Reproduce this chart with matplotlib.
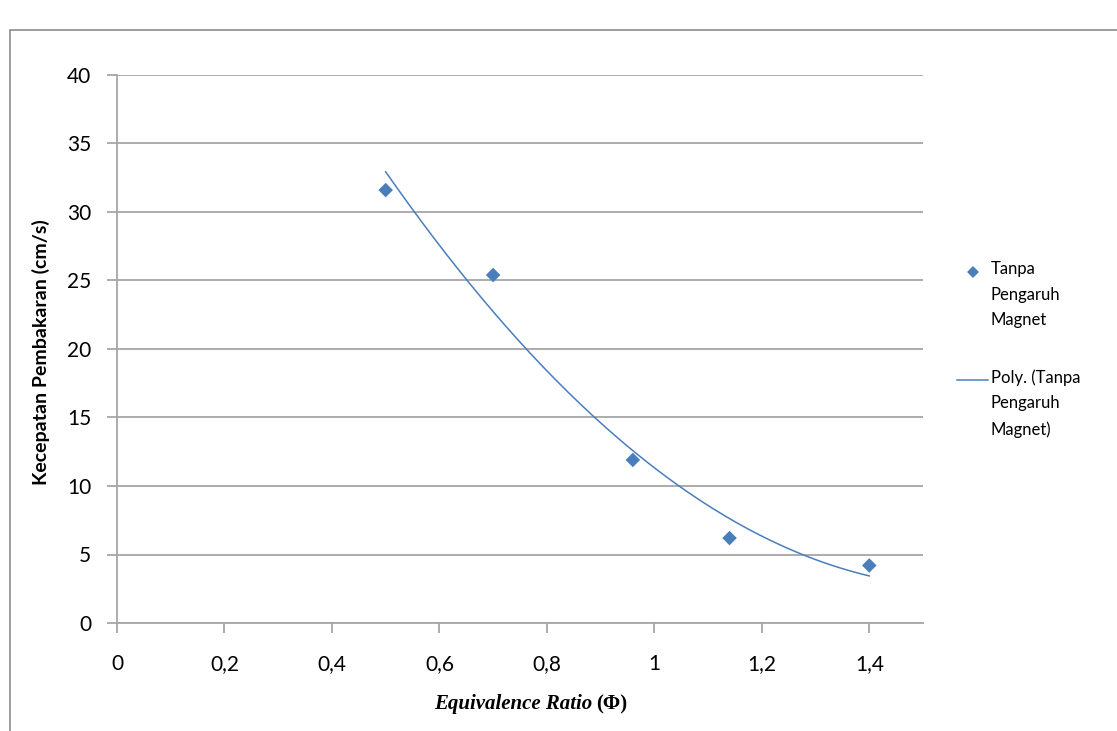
import numpy as np
import matplotlib.pyplot as plt
from matplotlib.patches import Rectangle
from matplotlib.lines import Line2D

# ---------------------------------------------------------------------------
# Data
# ---------------------------------------------------------------------------

phi = [0.5, 0.7, 0.96, 1.14, 1.4]
speed = [31.6, 25.4, 11.9, 6.2, 4.2]

x_ticks = [0, 0.2, 0.4, 0.6, 0.8, 1.0, 1.2, 1.4]
x_tick_labels = ["0", "0,2", "0,4", "0,6", "0,8", "1", "1,2", "1,4"]
y_ticks = [0, 5, 10, 15, 20, 25, 30, 35, 40]

series_label = "Tanpa\nPengaruh\nMagnet"
trend_label = "Poly. (Tanpa\nPengaruh\nMagnet)"

BLUE = "#4a7ebb"
GRID = "#a6a6a6"
FONT = "Lato"

# ---------------------------------------------------------------------------
# Plot
# ---------------------------------------------------------------------------

W, H = 1117, 731
fig = plt.figure(figsize=(W / 100, H / 100), dpi=100)


def fx(px):
    return px / W


def fy(py):
    return 1 - py / H


# chart frame (bottom and right edges run off the canvas)
fig.patches.append(Rectangle((fx(10), -0.05), fx(W), fy(30) + 0.05,
                             transform=fig.transFigure, fill=False,
                             edgecolor="#8c8c8c", linewidth=1.2))

ax = fig.add_axes([fx(117), fy(623), fx(923 - 117), (623 - 75) / H])

ax.scatter(phi, speed, marker="D", s=55, color=BLUE, zorder=3,
           edgecolors="none")

# 2nd order polynomial trendline (as in the spreadsheet chart)
coef = np.polyfit(phi, speed, 2)
xs = np.linspace(min(phi), max(phi), 200)
ax.plot(xs, np.polyval(coef, xs), color=BLUE, linewidth=1.1, zorder=2)

ax.set_xlim(0, 1.5)
ax.set_ylim(0, 40)
ax.set_xticks(x_ticks)
ax.set_xticklabels(x_tick_labels)
ax.set_yticks(y_ticks)

ax.grid(axis="y", color=GRID, linewidth=1.3)
ax.set_axisbelow(True)
for side in ["top", "right"]:
    ax.spines[side].set_visible(False)
for side in ["left", "bottom"]:
    ax.spines[side].set_color(GRID)
    ax.spines[side].set_linewidth(1.3)

ax.tick_params(axis="both", colors=GRID, width=1.3, length=7.5,
               labelcolor="black", labelsize=15)
ax.tick_params(axis="x", pad=15)
ax.tick_params(axis="y", pad=11)
for lbl in ax.get_xticklabels() + ax.get_yticklabels():
    lbl.set_fontfamily(FONT)

# axis titles
fig.text(fx(41), fy(352), "Kecepatan Pembakaran (cm/s)", rotation=90,
         ha="center", va="center", fontsize=14, fontweight="bold", family=FONT)
fig.text(fx(592), fy(704), "Equivalence Ratio", ha="right", va="center",
         fontsize=15, fontweight="bold", style="italic",
         family="Liberation Serif")
fig.text(fx(596), fy(704), "(\u03a6)", ha="left", va="center",
         fontsize=15, fontweight="bold", family="Liberation Serif")

# legend
fig.add_artist(Line2D([fx(973)], [fy(272)], marker="D", markersize=6.5,
                      color=BLUE, markeredgewidth=0,
                      transform=fig.transFigure))
fig.add_artist(Line2D([fx(957), fx(988)], [fy(380), fy(380)], color=BLUE,
                      linewidth=1.1, transform=fig.transFigure))
for y0, label in [(272, series_label), (380, trend_label)]:
    fig.text(fx(991), fy(y0 - 11), label, ha="left", va="top",
             fontsize=12, family=FONT, linespacing=1.75)

plt.savefig("out.png", dpi=100)
